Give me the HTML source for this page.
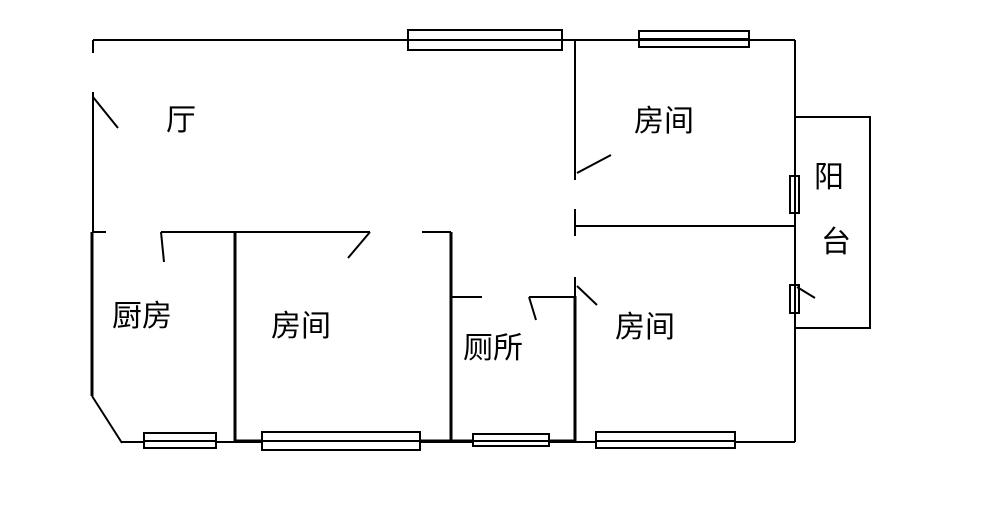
<!DOCTYPE html>
<html><head><meta charset="utf-8"><style>
html,body{margin:0;padding:0;background:#fff;}
svg{display:block}
text{font-family:"Liberation Sans","Noto Sans CJK SC","WenQuanYi Zen Hei",sans-serif;font-size:30px;fill:#000}
</style></head><body>
<svg width="1000" height="527" viewBox="0 0 1000 527" xmlns="http://www.w3.org/2000/svg">
<g stroke="#000" fill="none" stroke-width="2">
<!-- top wall -->
<line x1="93" y1="40" x2="795" y2="40"/>
<!-- left wall -->
<line x1="93" y1="40" x2="93" y2="53"/>
<line x1="93" y1="92" x2="93" y2="232"/>
<line x1="93" y1="97" x2="118" y2="128"/>
<line x1="92" y1="232" x2="92" y2="396" stroke-width="3"/>
<line x1="92" y1="396" x2="122" y2="443"/>
<!-- bottom wall -->
<line x1="122" y1="442" x2="795" y2="442"/>
<line x1="235" y1="441" x2="575" y2="441" stroke-width="3"/>
<!-- top windows -->
<rect x="408" y="30" width="154" height="20"/>
<rect x="639" y="31" width="110" height="16"/>
<!-- middle vertical -->
<line x1="575" y1="40" x2="575" y2="180"/>
<line x1="577" y1="173" x2="611" y2="155"/>
<line x1="575" y1="209" x2="575" y2="236"/>
<line x1="575" y1="226" x2="795" y2="226"/>
<line x1="575" y1="277" x2="575" y2="298"/>
<line x1="575" y1="296" x2="575" y2="442" stroke-width="3"/>
<line x1="577" y1="286" x2="597" y2="305"/>
<!-- right wall -->
<line x1="795" y1="40" x2="795" y2="251"/>
<line x1="795" y1="276" x2="795" y2="442"/>
<rect x="795" y="117" width="75" height="211"/>
<rect x="790" y="176" width="9" height="37" fill="#fff"/>
<rect x="790" y="285" width="9" height="28" fill="#fff"/>
<line x1="797" y1="287" x2="815" y2="298"/>
<!-- kitchen / room top wall y=232 -->
<line x1="92" y1="232" x2="106" y2="232"/>
<line x1="161" y1="232" x2="370" y2="232"/>
<line x1="161" y1="232" x2="164" y2="262"/>
<line x1="370" y1="232" x2="348" y2="258"/>
<line x1="235" y1="232" x2="235" y2="442" stroke-width="3"/>
<line x1="422" y1="232" x2="451" y2="232"/>
<line x1="451" y1="232" x2="451" y2="442" stroke-width="3"/>
<!-- toilet -->
<line x1="451" y1="297" x2="482" y2="297"/>
<line x1="529" y1="297" x2="575" y2="297"/>
<line x1="529" y1="297" x2="536" y2="320"/>
<!-- bottom windows -->
<rect x="144" y="433" width="72" height="15" fill="#fff"/>
<rect x="262" y="432" width="158" height="18" fill="#fff"/>
<rect x="473" y="434" width="76" height="12" fill="#fff"/>
<rect x="596" y="432" width="139" height="16" fill="#fff"/>
</g>
<g stroke="#000" stroke-width="2">
<line x1="408" y1="40" x2="562" y2="40"/>
<line x1="639" y1="39" x2="749" y2="39"/>
<line x1="144" y1="441" x2="216" y2="441"/>
<line x1="262" y1="441" x2="420" y2="441"/>
<line x1="473" y1="441" x2="549" y2="441"/>
<line x1="596" y1="441" x2="735" y2="441"/>
<line x1="795" y1="176" x2="795" y2="213"/>
<line x1="795" y1="285" x2="795" y2="313"/>
</g>
<text x="166" y="130">厅</text>
<text x="112" y="326">厨房</text>
<text x="271" y="336">房间</text>
<text x="463" y="358">厕所</text>
<text x="634" y="131">房间</text>
<text x="615" y="337">房间</text>
<text x="814" y="187">阳</text>
<text x="821" y="252">台</text>
</svg>
</body></html>
